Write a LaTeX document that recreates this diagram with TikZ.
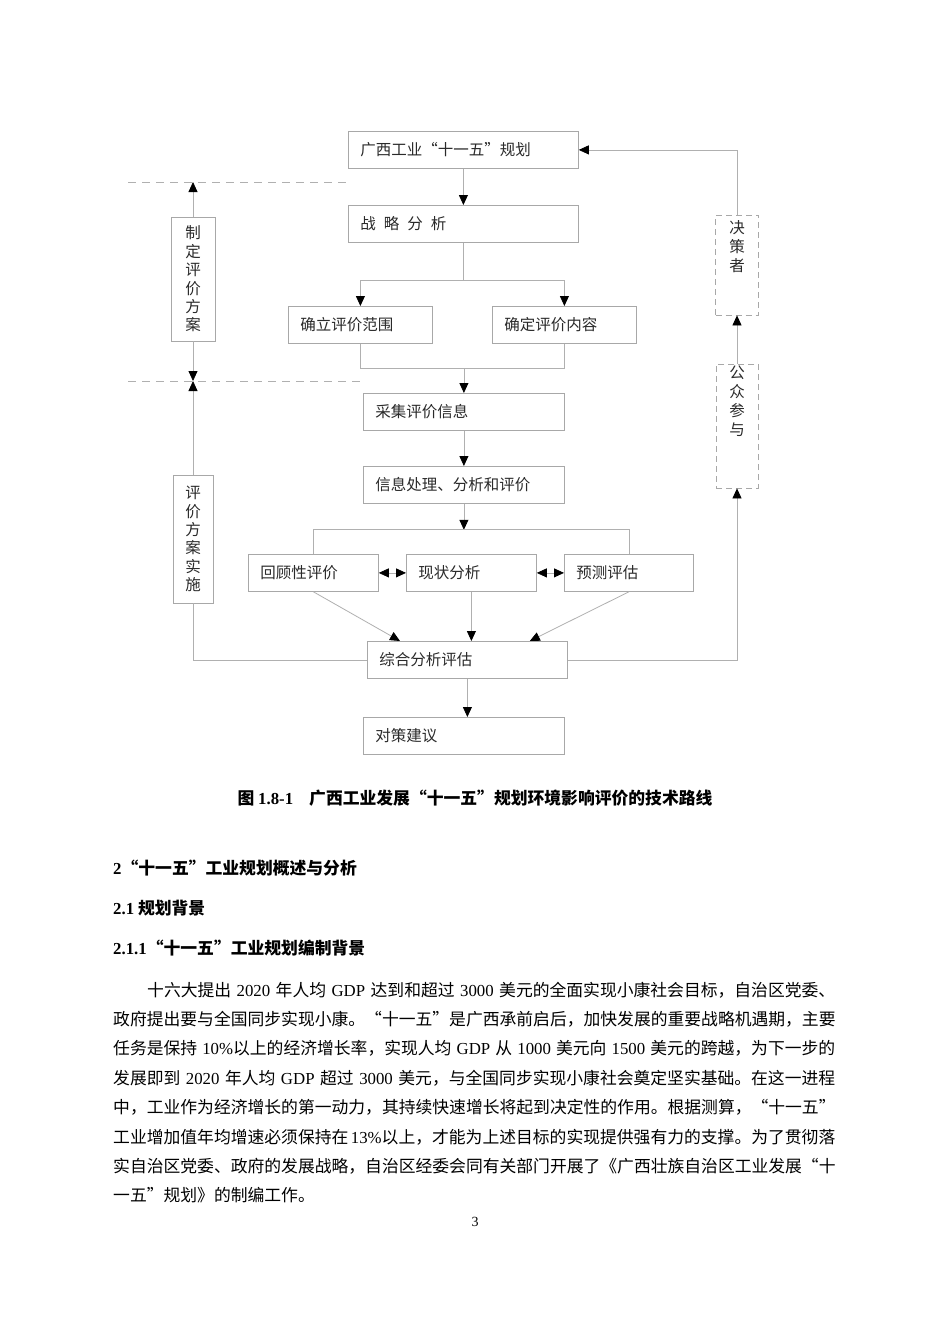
\documentclass[tikz,border=0pt]{standalone}
\usepackage{fontspec}
\setmainfont{Noto Sans CJK SC}
\newfontfamily\latf{Liberation Serif}
\usetikzlibrary{arrows.meta,calc}
\XeTeXlinebreaklocale "zh"
\XeTeXlinebreakskip=0pt plus 3pt minus 0.3pt
\newcommand\LT[1]{{\latf #1}}
\definecolor{linegray}{HTML}{B0B0B0}
\definecolor{boxgray}{HTML}{A8A8A8}
\definecolor{dtext}{HTML}{2A2A2A}
\tikzset{
  box/.style={draw=boxgray, line width=0.8pt, inner xsep=12pt, inner ysep=0pt,
    minimum height=37pt, align=left, anchor=north west, text=dtext,
    font=\fontsize{15.5}{18}\selectfont},
  vbox/.style={draw=boxgray, line width=0.8pt, inner sep=0pt, align=center, text=dtext,
    font=\fontsize{15.5}{18.4}\selectfont},
  dbox/.style={draw=boxgray, line width=0.8pt, dash pattern=on 6pt off 4pt, inner sep=0pt},
  vlabel/.style={inner sep=0pt, align=center, text=dtext, anchor=north,
    font=\fontsize{15.5}{19}\selectfont},
  conn/.style={draw=linegray, line width=0.8pt},
  arr/.style={conn, -{Triangle[length=10pt,width=9pt,color=black]}},
  darr/.style={conn, {Triangle[length=10pt,width=9pt,color=black]}-{Triangle[length=10pt,width=9pt,color=black]}},
  sepline/.style={draw=linegray, line width=0.8pt, dash pattern=on 8pt off 6pt},
  body/.style={inner sep=0pt, anchor=base west, font=\fontsize{16.8}{20}\selectfont},
  head/.style={inner sep=0pt, anchor=base west, font=\fontsize{16.8}{20}\selectfont\bfseries},
}
\begin{document}
\begin{tikzpicture}[x=1pt,y=-1pt]
\useasboundingbox[fill=white] (0,0) rectangle (950,1344);
% main boxes
\node[box, text width=206pt] (g1) at (348,131) {广西工业“十一五”规划};
\node[box, text width=206pt] (zl) at (348,205) {战\hspace{8pt}略\hspace{8pt}分\hspace{8pt}析};
\node[box, text width=120pt] (qf) at (288,306) {确立评价范围};
\node[box, text width=120pt] (qn) at (492,306) {确定评价内容};
\node[box, text width=177pt] (cj) at (363,393) {采集评价信息};
\node[box, text width=177pt] (xx) at (363,466) {信息处理、分析和评价};
\node[box, text width=106pt] (hg) at (248,554) {回顾性评价};
\node[box, text width=106pt] (xz) at (406,554) {现状分析};
\node[box, text width=105pt] (yc) at (564,554) {预测评估};
\node[box, text width=176pt] (zh) at (367,641) {综合分析评估};
\node[box, text width=177pt] (dc) at (363,717) {对策建议};
% side boxes
\node[vbox, minimum width=44pt, minimum height=124pt] (zd) at (193,279) {制\\定\\评\\价\\方\\案};
\node[vbox, minimum width=40pt, minimum height=128pt] (ss) at (193,539) {评\\价\\方\\案\\实\\施};
\node[dbox, minimum width=43pt, minimum height=100pt] (jc) at (737,265) {};
\node[vlabel] (jct) at (737,220) {决\\策\\者};
\node[dbox, minimum width=42pt, minimum height=124pt] (gz) at (737,426) {};
\node[vlabel] (gzt) at (737,366) {公\\众\\参\\与};
% dashed separators
\coordinate (d1a) at (128,182); \coordinate (d1b) at (350,182);
\coordinate (d2a) at (128,381); \coordinate (d2b) at (362,381);
\draw[sepline] (d1a) -- (d1b);
\draw[sepline] (d2a) -- (d2b);
% connectors
\draw[arr] (g1.south) -- (g1.south |- zl.north);
\coordinate (j1) at ($(zl.south)+(0,38)$);
\draw[conn] (zl.south) -- (j1);
\draw[arr] (j1) -| (qf.north);
\draw[arr] (j1) -| (qn.north);
\coordinate (j2) at ($(cj.north)+(0,-25)$);
\draw[conn] (qf.south) |- (j2);
\draw[conn] (qn.south) |- (j2);
\draw[arr] (j2) -- (cj.north);
\draw[arr] (cj.south) -- (xx.north);
\coordinate (j3) at ($(xx.south)+(0,26)$);
\draw[arr] (xx.south) -- (j3);
\draw[conn] (hg.north) |- (j3) -| (yc.north);
\draw[darr] (hg.east) -- (xz.west);
\draw[darr] (xz.east) -- (yc.west);
\coordinate (zl1) at ($(zh.north west)+(33,0)$);
\coordinate (zr1) at ($(zh.north east)+(-38,0)$);
\draw[arr] (hg.south) -- (zl1);
\draw[arr] (yc.south) -- (zr1);
\draw[arr] (xz.south) -- (xz.south |- zh.north);
\draw[arr] (zh.south) -- (zh.south |- dc.north);
% left loop
\draw[conn] (zh.west) -| (ss.south);
\draw[arr] (ss.north) -- (ss.north |- d2a);
\draw[arr] (zd.south) -- (zd.south |- d2a);
\draw[arr] (zd.north) -- (zd.north |- d1a);
% right loop
\draw[arr] (zh.east) -| (gz.south);
\draw[arr] (gz.north) -- (gz.north |- jc.south);
\draw[arr] (jc.north) |- (g1.east);
% caption
\node[inner sep=0pt, font=\fontsize{16.8}{20}\selectfont\bfseries] (cap) at (475,798)
  {图 \LT{1.8-1}\hspace{16pt}广西工业发展“十一五”规划环境影响评价的技术路线};
% headings
\node[head] (h1) at (113,874) {\LT{2}“十一五”工业规划概述与分析};
\node[head] (h2) at (113,914) {\LT{2.1} 规划背景};
\node[head] (h3) at (113,954) {\LT{2.1.1}“十一五”工业规划编制背景};
% body
\node[body] (p1) at (147,996) {\hbox to 688pt{十六大提出 \LT{2020} 年人均 \LT{GDP} 达到和超过 \LT{3000} 美元的全面实现小康社会目标，自治区党委、}};
\node[body] (p2) at (113,1025) {\hbox to 722pt{政府提出要与全国同步实现小康。“十一五”是广西承前启后，加快发展的重要战略机遇期，主要}};
\node[body] (p3) at (113,1054) {\hbox to 722pt{任务是保持 \LT{10\%}以上的经济增长率，实现人均 \LT{GDP} 从 \LT{1000} 美元向 \LT{1500} 美元的跨越，为下一步的}};
\node[body] (p4) at (113,1084) {\hbox to 722pt{发展即到 \LT{2020} 年人均 \LT{GDP} 超过 \LT{3000} 美元，与全国同步实现小康社会奠定坚实基础。在这一进程}};
\node[body] (p5) at (113,1113) {\hbox to 722pt{中，工业作为经济增长的第一动力，其持续快速增长将起到决定性的作用。根据测算，“十一五”}};
\node[body] (p6) at (113,1143) {\hbox to 722pt{工业增加值年均增速必须保持在 \LT{13\%}以上，才能为上述目标的实现提供强有力的支撑。为了贯彻落}};
\node[body] (p7) at (113,1172) {\hbox to 722pt{实自治区党委、政府的发展战略，自治区经委会同有关部门开展了《广西壮族自治区工业发展“十}};
\node[body] (p8) at (113,1201) {一五”规划》的制编工作。};
\node[inner sep=0pt, font=\latf\fontsize{14}{16}\selectfont] (pg) at (475,1222) {3};
\end{tikzpicture}
\end{document}
